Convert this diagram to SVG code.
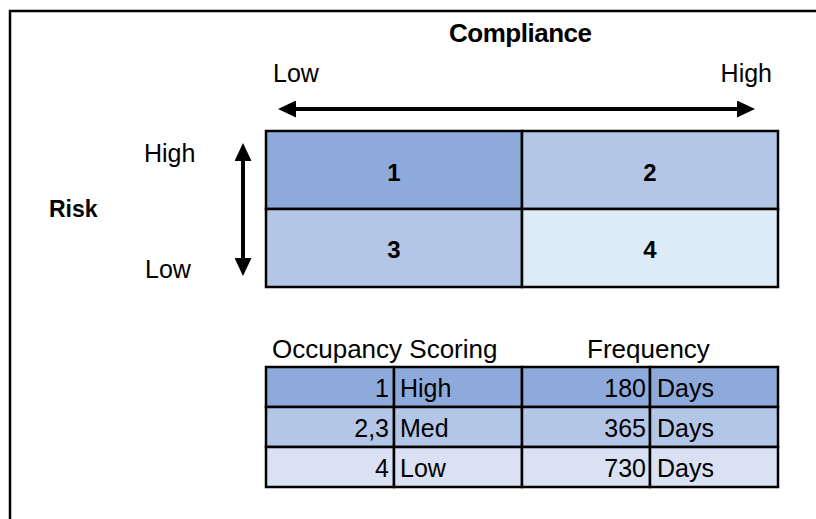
<svg xmlns="http://www.w3.org/2000/svg" width="816" height="519" viewBox="0 0 816 519">
  <style>
    text { font-family: "Liberation Sans", Arial, sans-serif; fill: #000; }
    .lbl { font-size: 25px; }
    .hdr { font-size: 26px; }
    .bold { font-weight: bold; }
    .num { font-size: 24px; font-weight: bold; text-anchor: middle; }
    .cell { stroke: #000; stroke-width: 2.5; }
    .tcell { stroke: #000; stroke-width: 2.5; }
    .c1 { fill: #8eaadb; }
    .c2 { fill: #b4c6e7; }
    .c4 { fill: #ddebf7; }
    .c3r { fill: #d9e1f2; }
    .r { text-anchor: end; }
    .arrow { stroke: #000; stroke-width: 4; fill: none; marker-start: url(#head); marker-end: url(#head); }
  </style>
  <defs>
    <marker id="head" markerUnits="userSpaceOnUse" markerWidth="18" markerHeight="17" viewBox="0 0 18 17" refX="8" refY="8.5" orient="auto-start-reverse">
      <path d="M0,0 L18,8.5 L0,17 Z" fill="#000"/>
    </marker>
  </defs>
  <rect width="816" height="519" fill="#fff"/>
  <path d="M10,519 L10,11 L816,11" fill="none" stroke="#000" stroke-width="2.5"/>

  <g id="axis-labels">
    <text class="hdr bold" x="520.5" y="42" text-anchor="middle" font-size="24" textLength="143" lengthAdjust="spacing">Compliance</text>
    <text class="lbl" x="273" y="82">Low</text>
    <text class="lbl" x="772" y="82" text-anchor="end">High</text>
    <text class="bold" x="49" y="217" font-size="23">Risk</text>
    <text class="lbl" x="144" y="162">High</text>
    <text class="lbl" x="145" y="278">Low</text>
  </g>

  <g id="connectors">
    <line class="arrow" x1="288" y1="109" x2="745" y2="109"/>
    <line class="arrow" x1="243" y1="153" x2="243" y2="266"/>
  </g>

  <g id="matrix">
    <g id="cell-1"><rect class="cell c1" x="266" y="131" width="256" height="78"/><text class="num" x="394" y="181">1</text></g>
    <g id="cell-2"><rect class="cell c2" x="522" y="131" width="256" height="78"/><text class="num" x="650" y="181">2</text></g>
    <g id="cell-3"><rect class="cell c2" x="266" y="209" width="256" height="78"/><text class="num" x="394" y="258">3</text></g>
    <g id="cell-4"><rect class="cell c4" x="522" y="209" width="256" height="78"/><text class="num" x="650" y="258">4</text></g>
  </g>

  <g id="table">
    <text class="hdr" x="272" y="358">Occupancy Scoring</text>
    <text class="hdr" x="587" y="358">Frequency</text>
    <g id="row-1">
      <rect class="tcell c1" x="266" y="367" width="128" height="40"/>
      <rect class="tcell c1" x="394" y="367" width="128" height="40"/>
      <rect class="tcell c1" x="522" y="367" width="128" height="40"/>
      <rect class="tcell c1" x="650" y="367" width="128" height="40"/>
      <text class="lbl r" x="389" y="397">1</text>
      <text class="lbl" x="400" y="397">High</text>
      <text class="lbl r" x="646" y="397">180</text>
      <text class="lbl" x="657" y="397">Days</text>
    </g>
    <g id="row-2">
      <rect class="tcell c2" x="266" y="407" width="128" height="40"/>
      <rect class="tcell c2" x="394" y="407" width="128" height="40"/>
      <rect class="tcell c2" x="522" y="407" width="128" height="40"/>
      <rect class="tcell c2" x="650" y="407" width="128" height="40"/>
      <text class="lbl r" x="389" y="437">2,3</text>
      <text class="lbl" x="400" y="437">Med</text>
      <text class="lbl r" x="646" y="437">365</text>
      <text class="lbl" x="657" y="437">Days</text>
    </g>
    <g id="row-3">
      <rect class="tcell c3r" x="266" y="447" width="128" height="40"/>
      <rect class="tcell c3r" x="394" y="447" width="128" height="40"/>
      <rect class="tcell c3r" x="522" y="447" width="128" height="40"/>
      <rect class="tcell c3r" x="650" y="447" width="128" height="40"/>
      <text class="lbl r" x="389" y="477">4</text>
      <text class="lbl" x="400" y="477">Low</text>
      <text class="lbl r" x="646" y="477">730</text>
      <text class="lbl" x="657" y="477">Days</text>
    </g>
  </g>
</svg>
